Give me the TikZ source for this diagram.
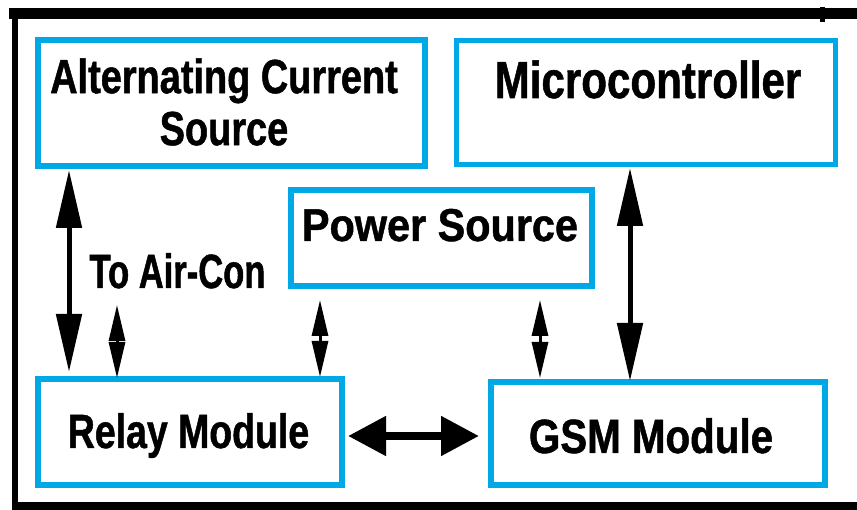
\documentclass[tikz,border=0pt]{standalone}
\usepackage{fontspec}
\newfontfamily\lab{Liberation Sans}[FakeBold=1]
\usetikzlibrary{arrows.meta}
\definecolor{boxc}{RGB}{0,168,230}
\newcommand\lblfont[3]{\lab\bfseries\fontsize{#1}{#2}\selectfont\addfontfeature{FakeStretch=#3}}
\begin{document}
\begin{tikzpicture}[x=1pt,y=1pt,
  box/.style={draw=boxc, line width=6pt, outer sep=0pt, inner sep=0pt},
  lbl/.style={inner sep=0pt, text=black},
  frame/.style={draw=black},
  big/.style={line width=5pt, {Triangle[length=58pt,width=25pt]}-{Triangle[length=58pt,width=25pt]}},
  small/.style={line width=3pt, {Triangle[length=36pt,width=16pt]}-{Triangle[length=36pt,width=16pt]}},
  hor/.style={line width=8pt, {Triangle[length=38pt,width=38pt]}-{Triangle[length=38pt,width=38pt]}}]
\useasboundingbox (0,0) rectangle (857,-510);
% outer frame
\draw[frame, line width=11pt] (9,-14) -- (857,-14);
\draw[frame, line width=6.5pt] (15,-9) -- (15,-510);
\draw[frame, line width=9pt] (12,-506) -- (857,-506);
\draw[frame, line width=5pt] (822,-7) -- (822,-22);
% boxes
\node[box, minimum width=387pt, minimum height=126pt] (ac) at (231.5,-103) {};
\node[box, line width=5pt, minimum width=379pt, minimum height=124pt] (micro) at (645.5,-103) {};
\node[box, minimum width=301pt, minimum height=96pt] (power) at (441.5,-238) {};
\node[box, minimum width=304pt, minimum height=106pt] (relay) at (190,-432) {};
\node[box, minimum width=334pt, minimum height=103pt] (gsm) at (658,-433.5) {};
% labels
\node[lbl, align=center, font=\lblfont{48}{52}{0.79}] (actext) at (224,-102) {Alternating Current\\Source};
\node[lbl, anchor=base, font=\lblfont{52}{52}{0.81}] (microtext) at (648,-98) {Microcontroller};
\node[lbl, anchor=base, font=\lblfont{46}{46}{0.9}] (powertext) at (440,-241) {Power Source};
\node[lbl, anchor=base, font=\lblfont{48}{48}{0.78}] (relaytext) at (188.5,-448) {Relay Module};
\node[lbl, anchor=base, font=\lblfont{48}{48}{0.84}] (gsmtext) at (651,-453) {GSM Module};
\node[lbl, anchor=base, font=\lblfont{48}{48}{0.72}] (airtext) at (177.5,-288) {To Air-Con};
% connectors
\coordinate (xa) at (69,0);
\coordinate (xb) at (630,0);
\coordinate (xc) at (320,0);
\coordinate (xd) at (540,0);
\coordinate (yh) at (0,-436);
\coordinate (aircon) at (117,-305);
\draw[big, shorten <=4pt, shorten >=7pt] (ac.south -| xa) -- (relay.north -| xa);
\draw[big, shorten <=3pt, shorten >=1pt] (micro.south -| xb) -- (gsm.north -| xb);
\draw[small, shorten <=14pt, shorten >=2pt] (power.south -| xc) -- (relay.north -| xc);
\draw[small, shorten <=14pt, shorten >=4pt] (power.south -| xd) -- (gsm.north -| xd);
\draw[small, shorten >=1pt] (aircon) -- (relay.north -| aircon);
\draw[hor, shorten <=6pt, shorten >=12pt] (relay.east |- yh) -- (gsm.west |- yh);
\end{tikzpicture}
\end{document}
